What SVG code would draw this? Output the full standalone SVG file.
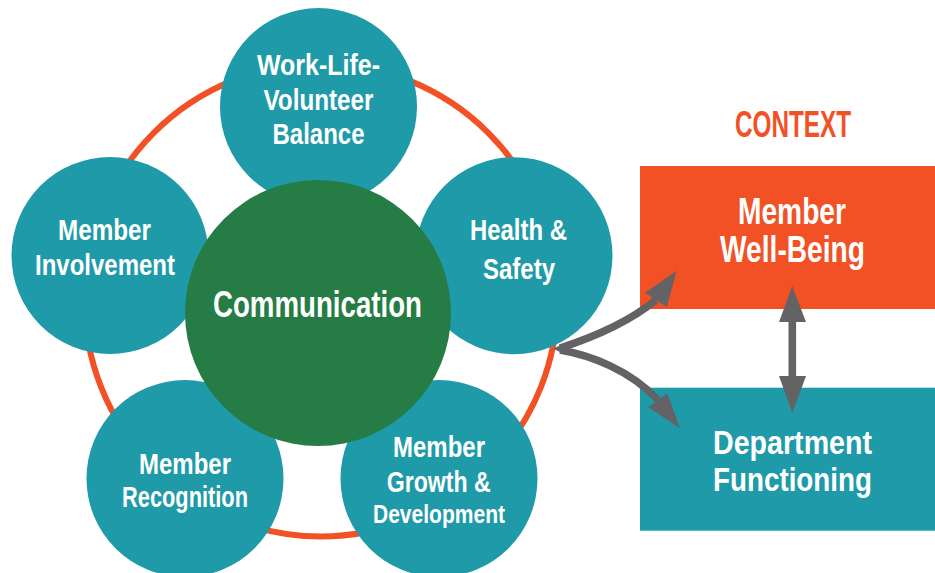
<svg xmlns="http://www.w3.org/2000/svg" width="935" height="573" viewBox="0 0 935 573">
<defs>
<style>
.t{font-family:"Liberation Sans",Arial,sans-serif;font-weight:bold;fill:#ffffff;text-anchor:middle}
.s{font-size:30px}
.l{font-size:36px}
.teal{fill:#1F9AA8}
.org{fill:#F15125}
.grn{fill:#267C45}
.gr{fill:#636366}
.cv{fill:none;stroke:#636366;stroke-width:7.5}
</style>
</defs>
<rect width="935" height="573" fill="#ffffff"/>
<circle id="ring" cx="321" cy="300" r="236.5" fill="none" stroke="#F15125" stroke-width="6"/>

<g id="worklife">
<circle class="teal" cx="318.5" cy="106.5" r="98.5"/>
<text class="t s" x="318.5" y="75" textLength="123" lengthAdjust="spacingAndGlyphs">Work-Life-</text>
<text class="t s" x="318.5" y="110" textLength="110" lengthAdjust="spacingAndGlyphs">Volunteer</text>
<text class="t s" x="318.5" y="144" textLength="92" lengthAdjust="spacingAndGlyphs">Balance</text>
</g>
<g id="involvement">
<circle class="teal" cx="110" cy="255.5" r="98.5"/>
<text class="t s" x="104.5" y="240" textLength="93" lengthAdjust="spacingAndGlyphs">Member</text>
<text class="t s" x="105" y="275" textLength="140" lengthAdjust="spacingAndGlyphs">Involvement</text>
</g>
<g id="health">
<circle class="teal" cx="514" cy="255.7" r="98.5"/>
<text class="t s" x="518.5" y="240" textLength="97" lengthAdjust="spacingAndGlyphs">Health &amp;</text>
<text class="t s" x="519" y="279" textLength="72" lengthAdjust="spacingAndGlyphs">Safety</text>
</g>
<g id="recognition">
<circle class="teal" cx="185" cy="478.5" r="98.5"/>
<text class="t s" x="185" y="474" textLength="92" lengthAdjust="spacingAndGlyphs">Member</text>
<text class="t s" x="185" y="506.7" textLength="126" lengthAdjust="spacingAndGlyphs">Recognition</text>
</g>
<g id="growth">
<circle class="teal" cx="439" cy="478.5" r="98.5"/>
<text class="t" style="font-size:29px" x="439" y="457.3" textLength="92" lengthAdjust="spacingAndGlyphs">Member</text>
<text class="t" style="font-size:29px" x="438.7" y="491.7" textLength="104" lengthAdjust="spacingAndGlyphs">Growth &amp;</text>
<text class="t" style="font-size:25px" x="439" y="522.7" textLength="132" lengthAdjust="spacingAndGlyphs">Development</text>
</g>
<g id="communication">
<circle class="grn" cx="318" cy="313" r="133"/>
<text class="t l" x="317.5" y="317.3" textLength="209" lengthAdjust="spacingAndGlyphs">Communication</text>
</g>

<g id="context-label">
<text class="t l" style="fill:#F15125" x="793" y="136.7" textLength="116" lengthAdjust="spacingAndGlyphs">CONTEXT</text>
</g>
<g id="wellbeing">
<rect class="org" x="640" y="166" width="295" height="143"/>
<text class="t l" x="792" y="224" textLength="108" lengthAdjust="spacingAndGlyphs">Member</text>
<text class="t l" x="792.5" y="261.7" textLength="145" lengthAdjust="spacingAndGlyphs">Well-Being</text>
</g>
<g id="department">
<rect class="teal" x="640" y="387.7" width="295" height="143"/>
<text class="t" style="font-size:33px" x="792.5" y="454" textLength="159" lengthAdjust="spacingAndGlyphs">Department</text>
<text class="t" style="font-size:33px" x="792.5" y="490.7" textLength="159" lengthAdjust="spacingAndGlyphs">Functioning</text>
</g>

<g id="connectors">
<path class="cv" d="M560,348 C585,340 625,325 656,300"/>
<path class="cv" d="M560,350 C590,355 630,370 658,400"/>
<polygon class="gr" points="553,348.5 566,343 566,355"/>
<polygon class="gr" points="676.7,270.7 645,292.7 666.7,307"/>
<polygon class="gr" points="680,428.3 648.3,407.3 667.3,393.3"/>
<rect class="gr" x="788.5" y="318" width="7.6" height="62"/>
<polygon class="gr" points="792.3,286 779,322 806,322"/>
<polygon class="gr" points="792.3,413 779,376 806,376"/>
</g>
</svg>
